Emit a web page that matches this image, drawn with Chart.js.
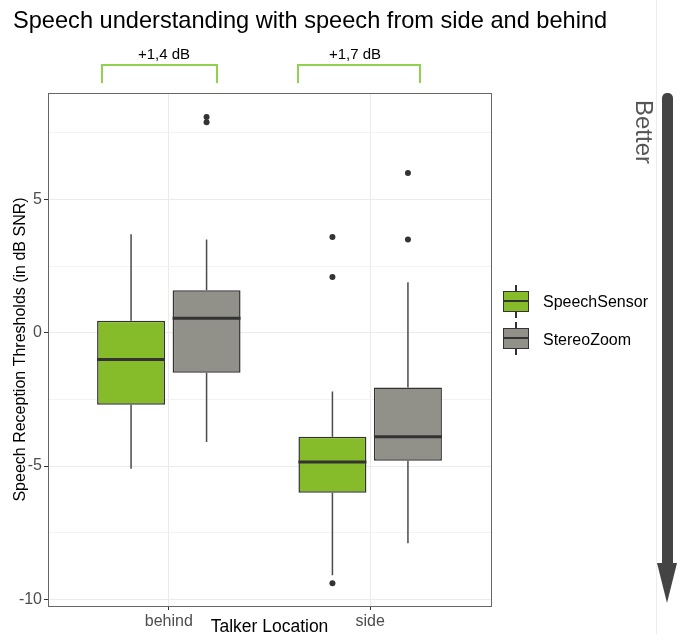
<!DOCTYPE html>
<html>
<head>
<meta charset="utf-8">
<script src="https://cdn.jsdelivr.net/npm/chart.js@4.4.1/dist/chart.umd.min.js"></script>
<style>
  body { margin: 0; background: #fff; font-family: "Liberation Sans", Arial, sans-serif; }
  #wrap { position: relative; width: 683px; height: 634px; overflow: hidden; }
  #chart { position: absolute; left: 0; top: 0; }
  .abs { position: absolute; white-space: nowrap; }
  .title { left: 13px; top: 6px; font-size: 23.6px; line-height: 28px; color: #000; }
  .diff { font-size: 15px; line-height: 18px; color: #000; transform: translate(-50%, -50%); }
  .bracket { border: 2px solid #92d050; border-bottom: none; height: 17px; }
  .key { width: 26px; height: 21px; box-sizing: border-box; border: 1.5px solid #333; }
  .key::after { content: ""; position: absolute; left: 0; right: 0; top: 8px; height: 2px; background: #333; }
  .whisk { width: 1.5px; background: #333; }
  .legtext { font-size: 16px; line-height: 20px; color: #000; transform: translateY(-50%); }
  .better { font-size: 24px; color: #555; transform: translate(-50%, -50%) rotate(90deg); }
</style>
</head>
<body>
<div id="wrap">
  <canvas id="chart" width="683" height="634"></canvas>
  <div class="abs title">Speech understanding with speech from side and behind</div>

  <div class="abs diff" style="left:164px; top:54px;">+1,4 dB</div>
  <div class="abs bracket" style="left:101px; top:64px; width:113px;"></div>
  <div class="abs diff" style="left:355px; top:54px;">+1,7 dB</div>
  <div class="abs bracket" style="left:297px; top:64px; width:120px;"></div>

  <div class="abs whisk" style="left:515px; top:285px; height:33px;"></div>
  <div class="abs key" style="left:503px; top:291px; background:#86bc29;"></div>
  <div class="abs legtext" style="left:543px; top:302px;">SpeechSensor</div>
  <div class="abs whisk" style="left:515px; top:322px; height:33px;"></div>
  <div class="abs key" style="left:503px; top:328px; background:#929189;"></div>
  <div class="abs legtext" style="left:543px; top:340px;">StereoZoom</div>

  <div class="abs" style="left:656px; top:0; width:1px; height:634px; background:#ececec;"></div>
  <div class="abs" style="left:662px; top:93px; width:11px; height:472px; background:#444; border-radius:5px 5px 0 0;"></div>
  <div class="abs" style="left:657px; top:563px; width:0; height:0; border-left:10.5px solid transparent; border-right:10.5px solid transparent; border-top:40px solid #444;"></div>
  <div class="abs better" style="left:644px; top:132px;">Better</div>
</div>
<script>
const categories = ["behind", "side"];
const catPositions = [1, 2];
const seriesNames = ["SpeechSensor", "StereoZoom"];
const seriesColors = ["#86bc29", "#929189"];

// SpeechSensor
const ssLower = [-5.1, -9.1];
const ssQ1 = [-2.7, -6.0];
const ssMedian = [-1.0, -4.85];
const ssQ3 = [0.45, -3.9];
const ssUpper = [3.7, -2.2];
const ssOutliers = [[], [3.6, 2.1, -9.4]];

// StereoZoom
const szLower = [-4.1, -7.9];
const szQ1 = [-1.5, -4.8];
const szMedian = [0.55, -3.9];
const szQ3 = [1.6, -2.05];
const szUpper = [3.5, 1.9];
const szOutliers = [[8.1, 7.9], [6.0, 3.5]];

const yMin = -10.25;
const yMax = 9.0;
const dodgeWidth = 0.75;

const stats = [
  { lower: ssLower, q1: ssQ1, median: ssMedian, q3: ssQ3, upper: ssUpper, out: ssOutliers },
  { lower: szLower, q1: szQ1, median: szMedian, q3: szQ3, upper: szUpper, out: szOutliers },
];

const boxDatasets = seriesNames.map((name, s) => ({
  type: "bar",
  label: name,
  data: catPositions.map((x, i) => ({ x: x, y: [stats[s].q1[i], stats[s].q3[i]] })),
  backgroundColor: seriesColors[s],
  borderColor: "#333",
  borderWidth: 1.5,
  borderSkipped: false,
  categoryPercentage: dodgeWidth,
  barPercentage: 0.9,
  order: 2,
}));

const outlierDatasets = seriesNames.map((name, s) => {
  const pts = [];
  catPositions.forEach((x, i) => {
    stats[s].out[i].forEach((v) => {
      pts.push({ x: x + (s - 0.5) * dodgeWidth / 2, y: v });
    });
  });
  return {
    type: "scatter",
    label: name + " outliers",
    data: pts,
    pointRadius: 3,
    pointBackgroundColor: "#333",
    pointBorderWidth: 0,
    order: 1,
  };
});

// whiskers, medians and panel border
const boxplotLines = {
  id: "boxplotLines",
  afterDatasetsDraw(chart) {
    const ctx = chart.ctx;
    const y = chart.scales.y;
    ctx.save();
    stats.forEach((st, s) => {
      const meta = chart.getDatasetMeta(s);
      meta.data.forEach((bar, i) => {
        const half = bar.width / 2;
        ctx.strokeStyle = "#4a4a4a";
        ctx.lineWidth = 1.5;
        ctx.beginPath();
        ctx.moveTo(bar.x, y.getPixelForValue(st.upper[i]));
        ctx.lineTo(bar.x, y.getPixelForValue(st.q3[i]));
        ctx.moveTo(bar.x, y.getPixelForValue(st.q1[i]));
        ctx.lineTo(bar.x, y.getPixelForValue(st.lower[i]));
        ctx.stroke();
        ctx.strokeStyle = "#333";
        ctx.lineWidth = 3;
        ctx.beginPath();
        const my = y.getPixelForValue(st.median[i]);
        ctx.moveTo(bar.x - half, my);
        ctx.lineTo(bar.x + half, my);
        ctx.stroke();
      });
    });
    const a = chart.chartArea;
    ctx.strokeStyle = "#666";
    ctx.lineWidth = 1;
    ctx.strokeRect(Math.round(a.left) + 0.5, Math.round(a.top) + 0.5, Math.round(a.right - a.left), Math.round(a.bottom - a.top));
    ctx.restore();
  },
};

new Chart(document.getElementById("chart"), {
  type: "bar",
  data: { datasets: [...boxDatasets, ...outlierDatasets] },
  options: {
    responsive: false,
    devicePixelRatio: 1,
    animation: false,
    layout: { padding: { top: 93, right: 192, left: 0, bottom: 0 } },
    plugins: { legend: { display: false }, tooltip: { enabled: false } },
    scales: {
      x: {
        type: "linear",
        min: 0.4,
        max: 2.6,
        offset: false,
        afterBuildTicks: (axis) => {
          axis.ticks = catPositions.map((v) => ({ value: v }));
        },
        afterFit: (axis) => {
          axis.height = 28;
        },
        grid: { offset: false, color: "#ebebeb", tickColor: "#333", tickLength: 4 },
        border: { display: false },
        ticks: {
          autoSkip: false,
          maxRotation: 0,
          padding: 2,
          color: "#4d4d4d",
          font: { family: "Liberation Sans", size: 16 },
          callback: (value, index) => categories[index],
        },
        title: {
          display: true,
          text: "Talker Location",
          color: "#000",
          font: { family: "Liberation Sans", size: 17.5, lineHeight: 0.8 },
          padding: 0,
        },
      },
      y: {
        min: yMin,
        max: yMax,
        afterFit: (axis) => {
          axis.width = 48;
        },
        grid: {
          color: (c) => (c.tick && c.tick.value % 5 === 0 ? "#ebebeb" : "#f3f3f3"),
          tickColor: (c) => (c.tick && c.tick.value % 5 === 0 ? "#333" : "rgba(0,0,0,0)"),
          tickLength: 4,
        },
        border: { display: false },
        ticks: {
          stepSize: 2.5,
          includeBounds: false,
          padding: 2,
          color: "#4d4d4d",
          font: { family: "Liberation Sans", size: 16 },
          callback: (value) => (value % 5 === 0 ? String(value) : ""),
        },
        title: {
          display: true,
          text: "Speech Reception Thresholds (in dB SNR)",
          color: "#000",
          font: { family: "Liberation Sans", size: 16, lineHeight: 1.2 },
          padding: { top: 11, bottom: 0 },
        },
      },
    },
  },
  plugins: [boxplotLines],
});
</script>
</body>
</html>
